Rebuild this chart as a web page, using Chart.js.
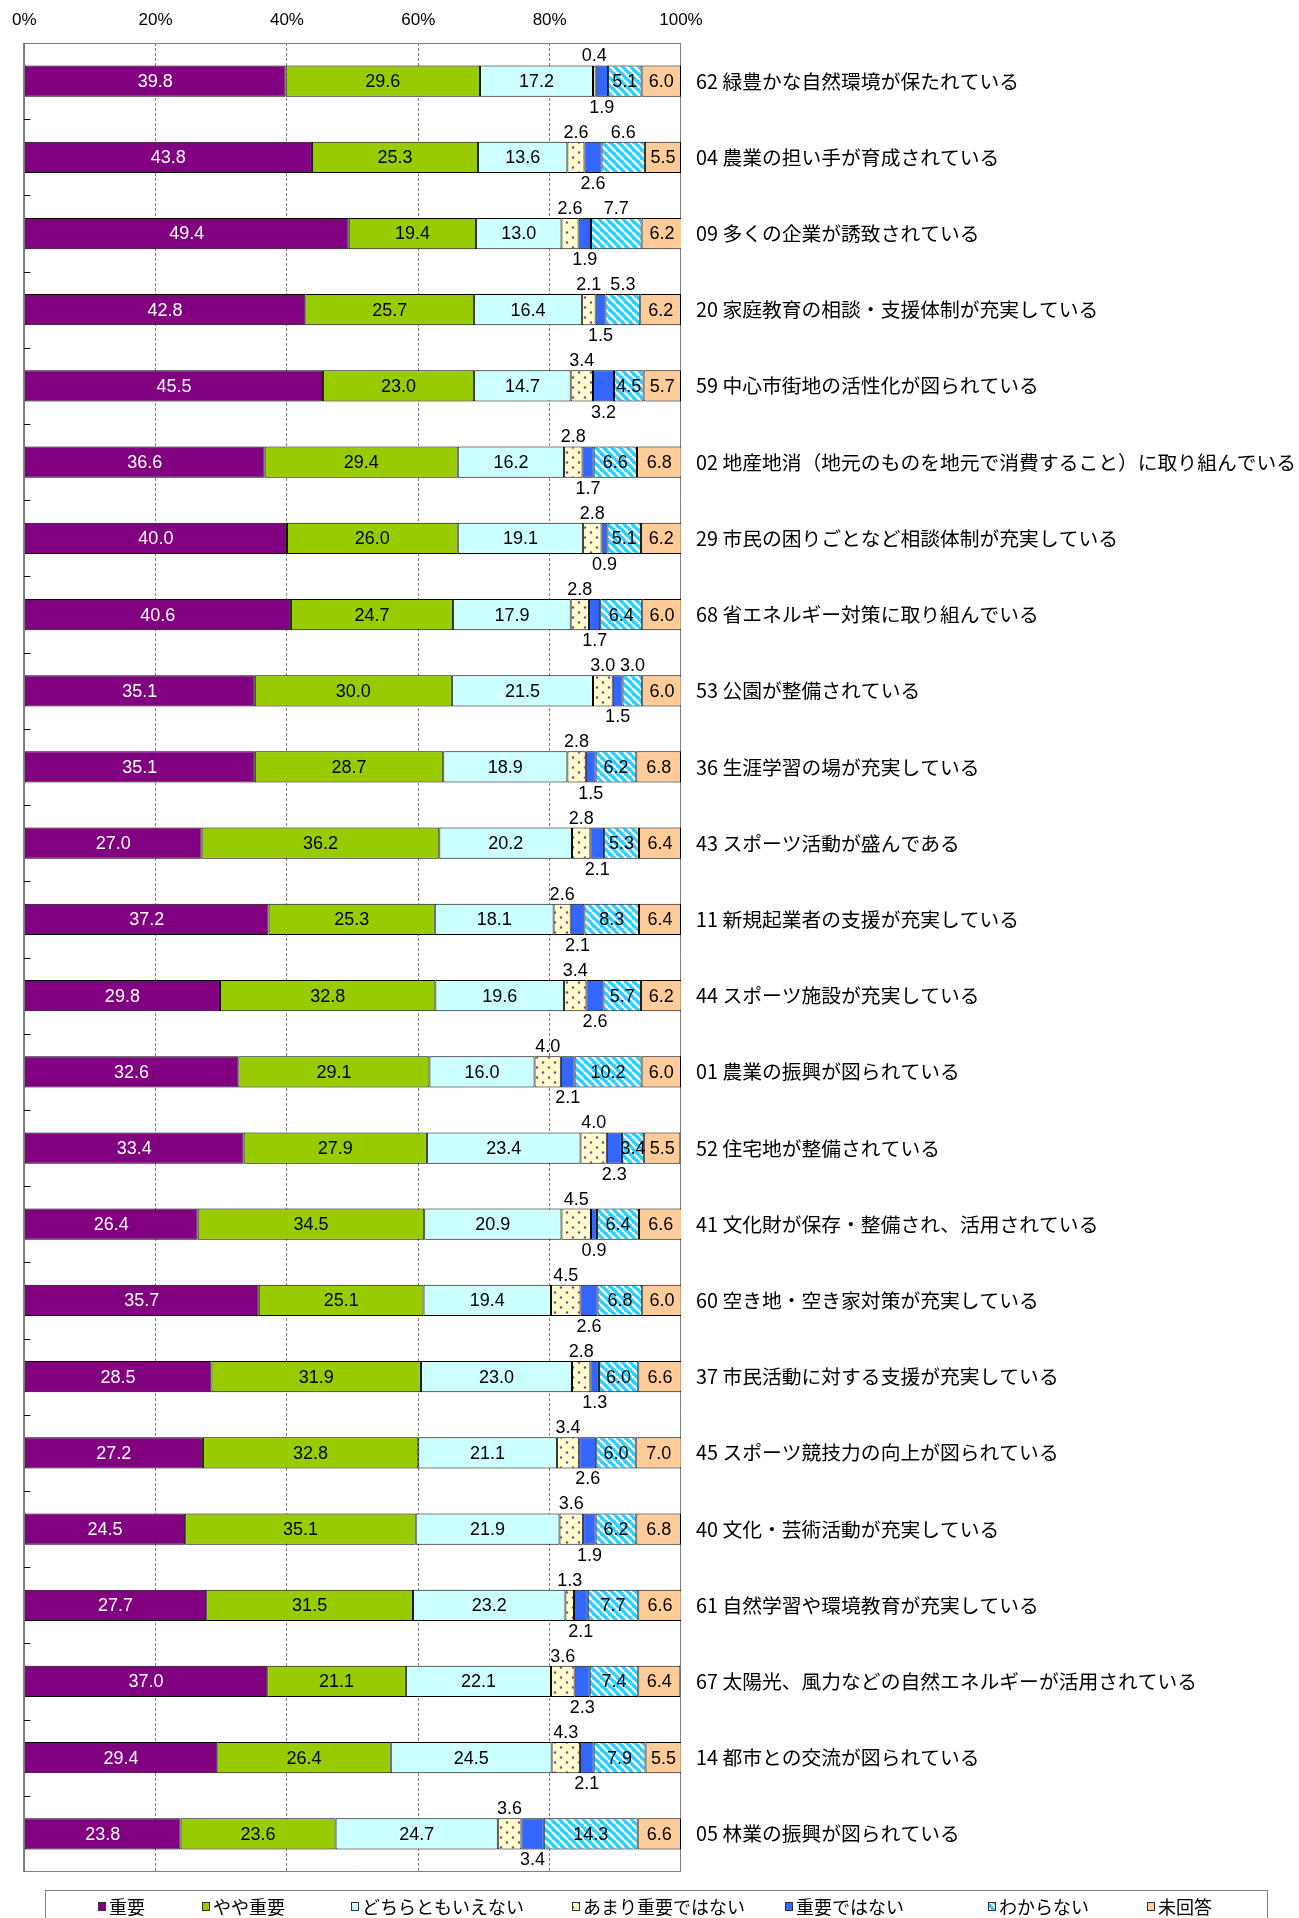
<!DOCTYPE html>
<html lang="ja">
<head>
<meta charset="utf-8">
<title>重要度</title>
<script src="https://cdn.jsdelivr.net/npm/chart.js@4.4.1/dist/chart.umd.min.js"></script>
<style>
  html, body { margin: 0; padding: 0; background: #ffffff; }
  #wrap { width: 1299px; height: 1918px; }
</style>
</head>
<body>
<div id="wrap"><canvas id="c" width="1299" height="1918"></canvas></div>
<script>
// ---------- data ----------
const categories = [
  '62 緑豊かな自然環境が保たれている',
  '04 農業の担い手が育成されている',
  '09 多くの企業が誘致されている',
  '20 家庭教育の相談・支援体制が充実している',
  '59 中心市街地の活性化が図られている',
  '02 地産地消（地元のものを地元で消費すること）に取り組んでいる',
  '29 市民の困りごとなど相談体制が充実している',
  '68 省エネルギー対策に取り組んでいる',
  '53 公園が整備されている',
  '36 生涯学習の場が充実している',
  '43 スポーツ活動が盛んである',
  '11 新規起業者の支援が充実している',
  '44 スポーツ施設が充実している',
  '01 農業の振興が図られている',
  '52 住宅地が整備されている',
  '41 文化財が保存・整備され、活用されている',
  '60 空き地・空き家対策が充実している',
  '37 市民活動に対する支援が充実している',
  '45 スポーツ競技力の向上が図られている',
  '40 文化・芸術活動が充実している',
  '61 自然学習や環境教育が充実している',
  '67 太陽光、風力などの自然エネルギーが活用されている',
  '14 都市との交流が図られている',
  '05 林業の振興が図られている'
];
const seriesNames = ['重要', 'やや重要', 'どちらともいえない', 'あまり重要ではない', '重要ではない', 'わからない', '未回答'];
const juyo      = [39.8, 43.8, 49.4, 42.8, 45.5, 36.6, 40.0, 40.6, 35.1, 35.1, 27.0, 37.2, 29.8, 32.6, 33.4, 26.4, 35.7, 28.5, 27.2, 24.5, 27.7, 37.0, 29.4, 23.8];
const yayaJuyo  = [29.6, 25.3, 19.4, 25.7, 23.0, 29.4, 26.0, 24.7, 30.0, 28.7, 36.2, 25.3, 32.8, 29.1, 27.9, 34.5, 25.1, 31.9, 32.8, 35.1, 31.5, 21.1, 26.4, 23.6];
const dochiramo = [17.2, 13.6, 13.0, 16.4, 14.7, 16.2, 19.1, 17.9, 21.5, 18.9, 20.2, 18.1, 19.6, 16.0, 23.4, 20.9, 19.4, 23.0, 21.1, 21.9, 23.2, 22.1, 24.5, 24.7];
const amari     = [0.4, 2.6, 2.6, 2.1, 3.4, 2.8, 2.8, 2.8, 3.0, 2.8, 2.8, 2.6, 3.4, 4.0, 4.0, 4.5, 4.5, 2.8, 3.4, 3.6, 1.3, 3.6, 4.3, 3.6];
const juyoDeNai = [1.9, 2.6, 1.9, 1.5, 3.2, 1.7, 0.9, 1.7, 1.5, 1.5, 2.1, 2.1, 2.6, 2.1, 2.3, 0.9, 2.6, 1.3, 2.6, 1.9, 2.1, 2.3, 2.1, 3.4];
const wakaranai = [5.1, 6.6, 7.7, 5.3, 4.5, 6.6, 5.1, 6.4, 3.0, 6.2, 5.3, 8.3, 5.7, 10.2, 3.4, 6.4, 6.8, 6.0, 6.0, 6.2, 7.7, 7.4, 7.9, 14.3];
const mikaito   = [6.0, 5.5, 6.2, 6.2, 5.7, 6.8, 6.2, 6.0, 6.0, 6.8, 6.4, 6.4, 6.2, 6.0, 5.5, 6.6, 6.0, 6.6, 7.0, 6.8, 6.6, 6.4, 5.5, 6.6];
const xTickLabels = ['0%', '20%', '40%', '60%', '80%', '100%'];

// rows whose "わからない" label sits above the bar
const wakaranaiAboveRows = [1, 2, 3, 8];

// ---------- styles ----------
function dotPattern() {
  const t = document.createElement('canvas');
  t.width = 12; t.height = 10;
  const g = t.getContext('2d');
  g.fillStyle = '#FFFFCC'; g.fillRect(0, 0, 12, 10);
  g.fillStyle = '#993399';
  [[3, 2.5], [9, 7.5]].forEach(([x, y]) => { g.beginPath(); g.arc(x, y, 1.2, 0, Math.PI * 2); g.fill(); });
  return g.createPattern(t, 'repeat');
}
function stripePattern() {
  const t = document.createElement('canvas');
  t.width = 8; t.height = 8;
  const g = t.getContext('2d');
  g.fillStyle = '#33CCFF'; g.fillRect(0, 0, 8, 8);
  g.strokeStyle = '#FFFFFF'; g.lineWidth = 2.4;
  [[-8, 0], [0, 0], [8, 0]].forEach(([ox]) => { g.beginPath(); g.moveTo(ox, 0); g.lineTo(ox + 8, 8); g.stroke(); });
  return g.createPattern(t, 'repeat');
}
const ctx0 = document.getElementById('c').getContext('2d');
const fills = ['#800080', '#99CC00', '#CCFFFF', dotPattern(), '#3366FF', stripePattern(), '#FFCC99'];
const seriesValues = [juyo, yayaJuyo, dochiramo, amari, juyoDeNai, wakaranai, mikaito];

const numFont = '18px "Liberation Sans", Arial, sans-serif';
const jpFont = '"Noto Sans CJK JP", "Noto Sans", sans-serif';

// ---------- plugins ----------
const framePlugin = {
  id: 'frame',
  beforeDatasetsDraw(chart) {
    const {ctx, chartArea: a, scales: {y}} = chart;
    ctx.save();
    ctx.strokeStyle = '#808080';
    ctx.lineWidth = 1;
    ctx.beginPath();
    ctx.moveTo(a.left, a.top + 0.5); ctx.lineTo(a.right, a.top + 0.5);
    ctx.moveTo(a.left, a.bottom - 0.5); ctx.lineTo(a.right, a.bottom - 0.5);
    ctx.moveTo(a.right - 0.5, a.top); ctx.lineTo(a.right - 0.5, a.bottom);
    ctx.stroke();
    ctx.strokeStyle = '#555555';
    ctx.lineWidth = 1.5;
    ctx.beginPath();
    ctx.moveTo(a.left - 0.25, a.top); ctx.lineTo(a.left - 0.25, a.bottom);
    ctx.stroke();
    // small category separator ticks on the left axis
    ctx.strokeStyle = '#000000';
    ctx.lineWidth = 1;
    ctx.beginPath();
    for (let i = 1; i < categories.length; i++) {
      const yy = Math.round((y.getPixelForValue(i - 1) + y.getPixelForValue(i)) / 2) + 0.5;
      ctx.moveTo(a.left, yy); ctx.lineTo(a.left + 6, yy);
    }
    ctx.stroke();
    ctx.restore();
  }
};

const valueLabelPlugin = {
  id: 'valueLabels',
  afterDatasetsDraw(chart) {
    const ctx = chart.ctx;
    ctx.save();
    ctx.font = numFont;
    ctx.textAlign = 'center';
    chart.data.datasets.forEach((ds, di) => {
      const meta = chart.getDatasetMeta(di);
      meta.data.forEach((el, i) => {
        const v = ds.data[i];
        const cx = (el.x + el.base) / 2;
        const half = el.height / 2;
        let place = 'in';
        if (di === 3) place = 'above';
        else if (di === 4) place = 'below';
        else if (di === 5 && wakaranaiAboveRows.includes(i)) place = 'above';
        ctx.fillStyle = di === 0 ? '#FFFFFF' : '#000000';
        if (place === 'above') { ctx.textBaseline = 'bottom'; ctx.fillText(v.toFixed(1), cx, el.y - half); }
        else if (place === 'below') { ctx.textBaseline = 'top'; ctx.fillText(v.toFixed(1), cx, el.y + half + 2); }
        else { ctx.textBaseline = 'middle'; ctx.fillText(v.toFixed(1), cx, el.y + 1); }
      });
    });
    ctx.restore();
  }
};

const legendX = [98, 202, 351, 572, 785, 988, 1147];
const legendPlugin = {
  id: 'boxLegend',
  afterDraw(chart) {
    const ctx = chart.ctx;
    ctx.save();
    ctx.strokeStyle = '#808080';
    ctx.lineWidth = 1;
    ctx.strokeRect(45.5, 1890.5, 1222, 60);
    const cy = 1907;
    chart.data.datasets.forEach((ds, i) => {
      const x = legendX[i];
      ctx.fillStyle = ds.backgroundColor;
      ctx.fillRect(x, cy - 5, 8, 9);
      ctx.strokeStyle = '#333333';
      ctx.strokeRect(x + 0.5, cy - 4.5, 7, 8);
      ctx.fillStyle = '#000000';
      ctx.font = '18px ' + jpFont;
      ctx.textAlign = 'left';
      ctx.textBaseline = 'middle';
      ctx.fillText(ds.label, x + 11, cy);
    });
    ctx.restore();
  }
};

// ---------- chart ----------
new Chart(ctx0, {
  type: 'bar',
  data: {
    labels: categories,
    datasets: seriesNames.map((name, i) => ({
      label: name,
      data: seriesValues[i],
      backgroundColor: fills[i],
      borderColor: '#000000',
      borderWidth: 1,
      borderSkipped: false,
      barPercentage: 0.41,
      categoryPercentage: 1.0
    }))
  },
  options: {
    responsive: false,
    animation: false,
    indexAxis: 'y',
    layout: { padding: { left: 21, right: 0, top: 0, bottom: 46 } },
    plugins: { legend: { display: false }, tooltip: { enabled: false } },
    scales: {
      x: {
        position: 'top',
        stacked: true,
        min: 0, max: 100,
        ticks: {
          stepSize: 20,
          padding: 12,
          color: '#000000',
          font: { family: '"Liberation Sans", Arial, sans-serif', size: 17 },
          callback: (v, i) => xTickLabels[i]
        },
        grid: {
          drawTicks: false,
          lineWidth: 1,
          color: c => (c.tick && (c.tick.value === 0 || c.tick.value === 100)) ? 'rgba(0,0,0,0)' : '#808080'
        },
        border: { display: false, dash: [3, 2] },
        afterFit: s => { s.height = 43; }
      },
      y: {
        position: 'right',
        stacked: true,
        ticks: {
          padding: 15,
          autoSkip: false,
          color: '#000000',
          font: { family: jpFont, size: 19.8 }
        },
        grid: { display: false, drawTicks: false },
        border: { display: false },
        afterFit: s => { s.width = 618; }
      }
    }
  },
  plugins: [framePlugin, valueLabelPlugin, legendPlugin]
});
</script>
</body>
</html>
